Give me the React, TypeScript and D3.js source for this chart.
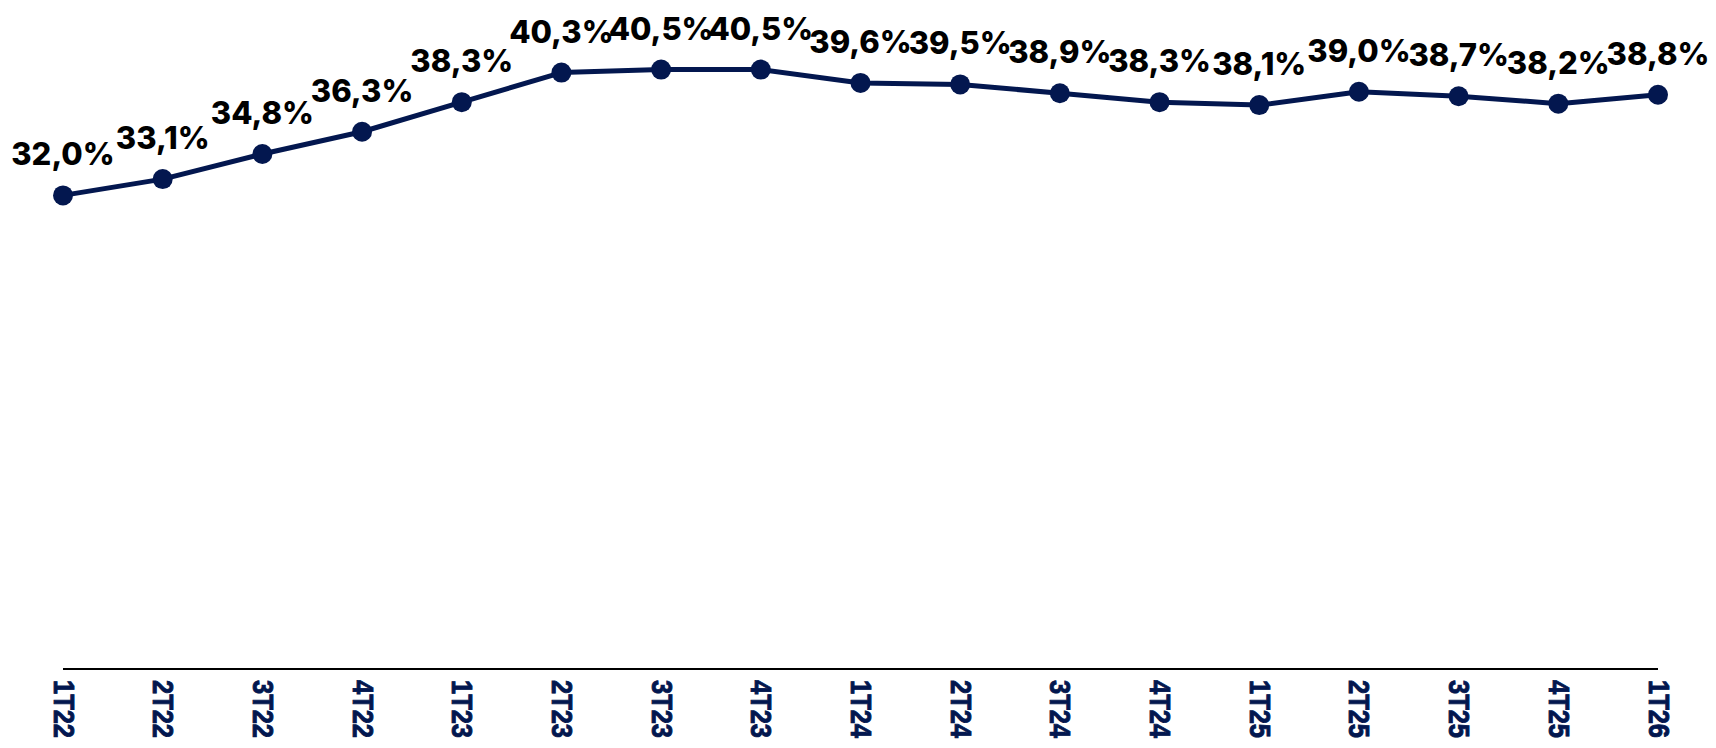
import { useEffect, useRef } from "react";
import * as d3 from "d3";

const quarters = ["1T22", "2T22", "3T22", "4T22", "1T23", "2T23", "3T23", "4T23", "1T24", "2T24", "3T24", "4T24", "1T25", "2T25", "3T25", "4T25", "1T26"];
const margin = [32.0, 33.1, 34.8, 36.3, 38.3, 40.3, 40.5, 40.5, 39.6, 39.5, 38.9, 38.3, 38.1, 39.0, 38.7, 38.2, 38.8];
const yDomain = [0, 45];

export default function App() {
  const width = 1716;
  const height = 748;
  const marginLeft = 63;
  const marginRight = 58;
  const axisY = 669;

  const gx = useRef(null);

  const navy = "#03174f";

  const x = d3.scalePoint()
    .domain(quarters)
    .range([marginLeft, width - marginRight]);

  const y = d3.scaleLinear()
    .domain(yDomain)
    .range([axisY, axisY - 45 * 14.8]);

  const line = d3.line<number>()
    .x((d, i) => x(quarters[i]))
    .y(d => y(d));

  const fmt = (v: number) => v.toFixed(1).replace(".", ",") + "%";

  useEffect(() => {
    const g = d3.select(gx.current);
    // @ts-ignore
    g.call(d3.axisBottom(x).tickSize(0).tickPadding(0))
      .call(g => g.select(".domain").attr("stroke", "#000").attr("stroke-width", 2.2).attr("d", `M${x(quarters[0])},0H${x(quarters[quarters.length - 1])}`))
      .call(g => g.selectAll(".tick text")
        .attr("transform", "rotate(90)")
        .attr("x", 11)
        .attr("y", 0)
        .attr("dy", null)
        .attr("dominant-baseline", "central")
        .attr("text-anchor", "start")
        .attr("fill", navy)
        .attr("stroke", navy)
        .attr("stroke-width", 0.9)
        .attr("font-size", 29)
        .attr("font-weight", 700)
        .attr("font-family", "'Liberation Sans', Arial, sans-serif")
        .attr("textLength", 58)
        .attr("lengthAdjust", "spacingAndGlyphs"));
  }, [gx, x]);

  return (
    <svg width={width} height={height} style={{ position: "absolute", left: 0, top: 0, background: "#fff" }}>
      <g ref={gx} transform={`translate(0,${axisY})`} />
      <path d={line(margin) ?? ""} fill="none" stroke={navy} strokeWidth={5} strokeLinejoin="round" />
      {margin.map((v, i) => (
        <circle key={quarters[i]} cx={x(quarters[i])} cy={y(v)} r={10} fill={navy} />
      ))}
      {margin.map((v, i) => (
        <text key={"l" + quarters[i]} x={x(quarters[i])} y={y(v) - 30} textAnchor="middle"
          fontFamily="Inter, 'Noto Sans', sans-serif" fontWeight={800} fontSize={31} fill="#000">
          {fmt(v)}
        </text>
      ))}
    </svg>
  );
}
